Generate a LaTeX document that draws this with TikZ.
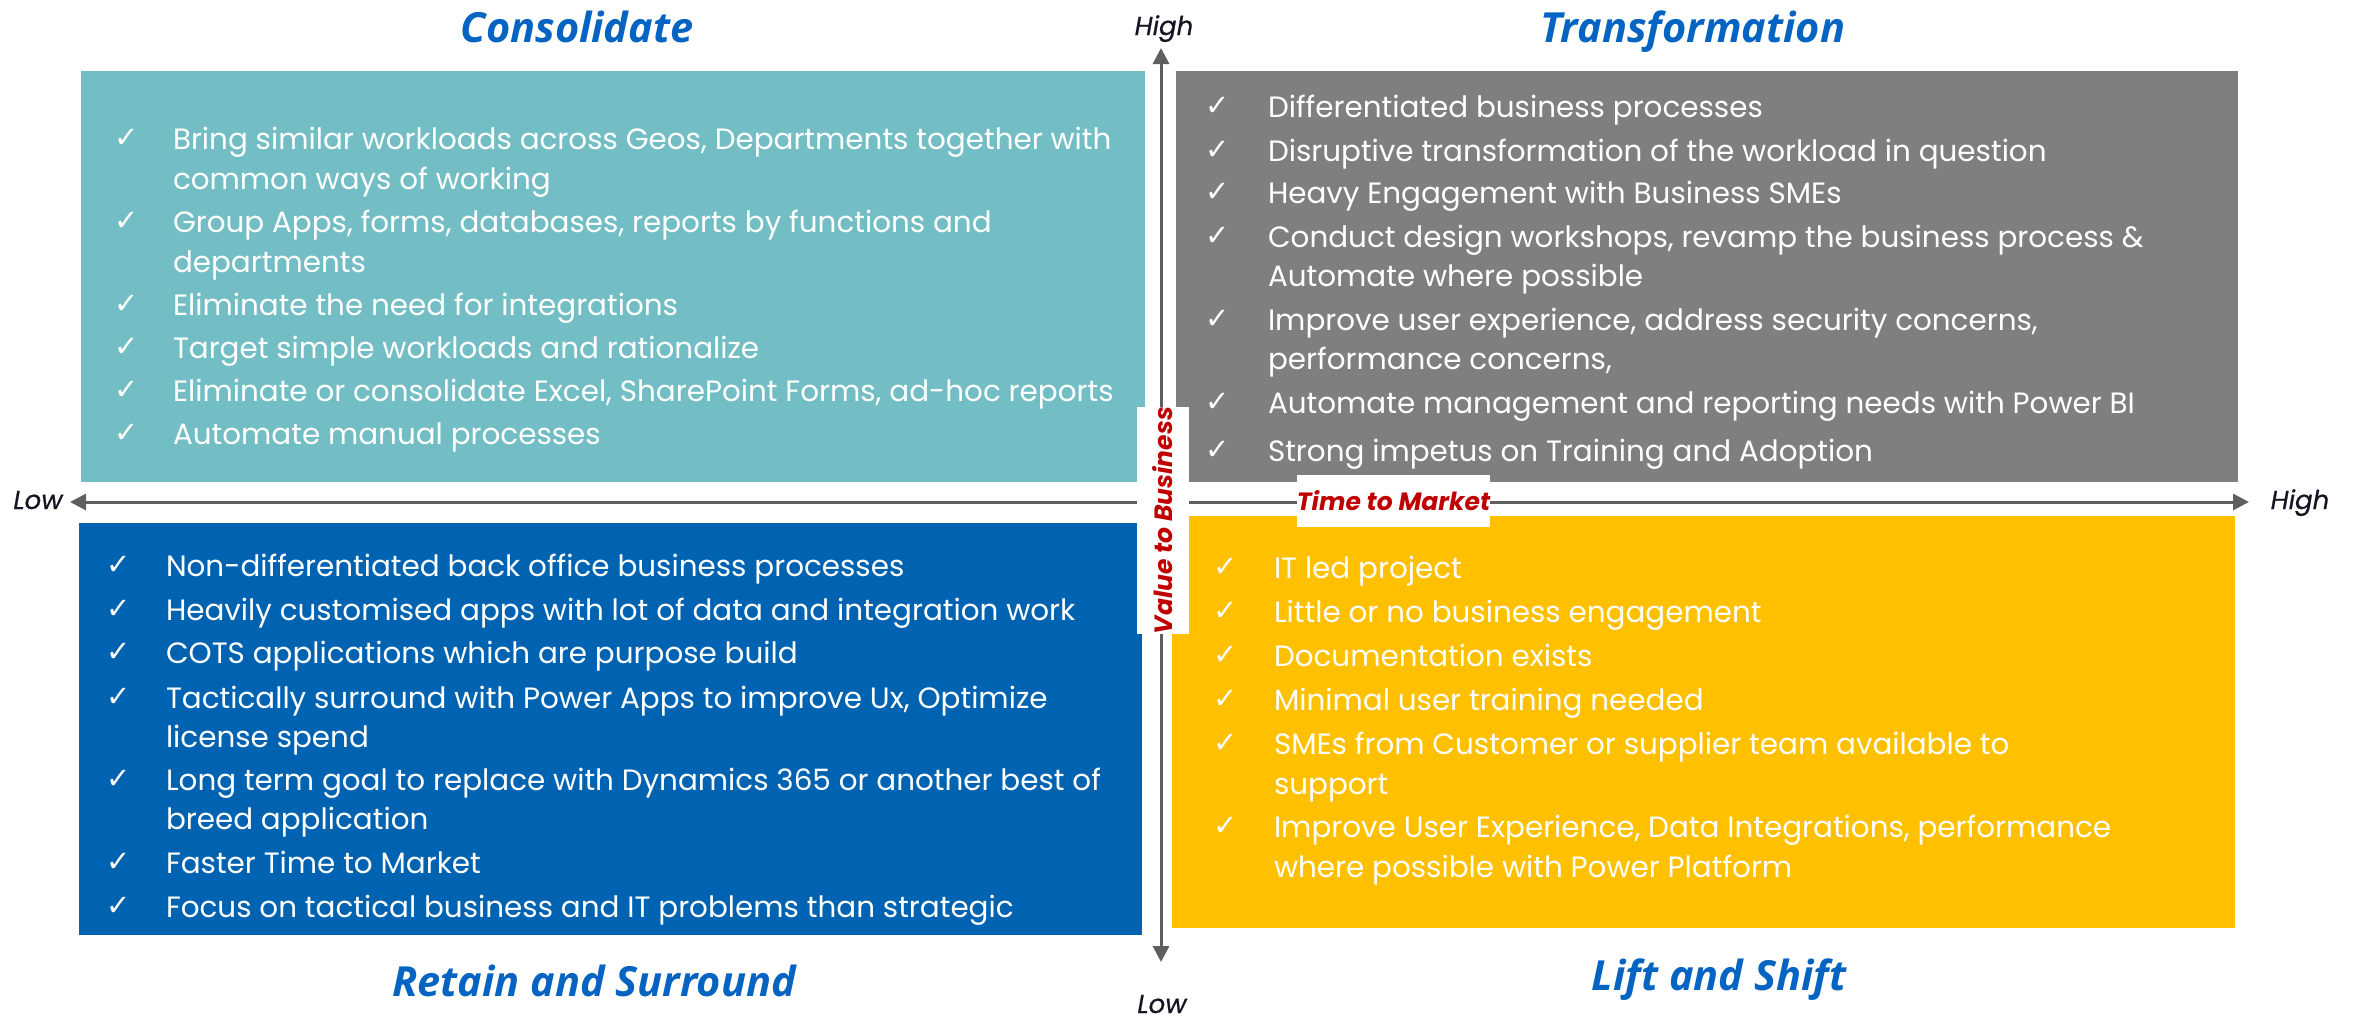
\documentclass[tikz,border=0pt]{standalone}
\usepackage{fontspec}
\setmainfont{Poppins}
\newfontfamily\titlefont{Open Sans}
\newfontfamily\ckfont{DejaVu Sans}
\newfontfamily\axfont[FakeBold=0.6]{Poppins}
\usetikzlibrary{arrows.meta}
\definecolor{cTeal}{RGB}{115,190,196}
\definecolor{cGray}{RGB}{127,127,127}
\definecolor{cBlue}{RGB}{0,99,177}
\definecolor{cYellow}{RGB}{255,192,0}
\definecolor{cTitle}{RGB}{5,99,193}
\definecolor{cRed}{RGB}{192,0,0}
\definecolor{cAxis}{RGB}{95,95,95}
\definecolor{cLbl}{RGB}{20,20,35}
\newcommand\ck[1][58]{\makebox[#1pt][l]{\raisebox{2pt}{\ckfont\fontsize{29}{29}\selectfont ✓}}}
\begin{document}
\begin{tikzpicture}[x=1pt,y=-1pt,
  qbox/.style={draw=none, inner sep=0, outer sep=0, anchor=north west},
  body/.style={anchor=base west, inner sep=0, outer sep=0, text=white},
  ttl/.style={anchor=base, inner sep=0, text=cTitle, font=\titlefont\bfseries\itshape\fontsize{41.5}{41.5}\selectfont},
  axlbl/.style={anchor=base, inner sep=0, text=cLbl, font=\axfont\itshape\fontsize{26}{26}\selectfont},
  axisline/.style={draw=cAxis, line width=3pt, {Triangle[length=16pt,width=16pt]}-{Triangle[length=16pt,width=16pt]}},
  lblbox/.style={fill=white, draw=none, inner sep=0, text=cRed, font=\bfseries\itshape\fontsize{25}{25}\selectfont}
]
\useasboundingbox (0,0) rectangle (2356,1017);
% quadrant boxes
\node[qbox, fill=cTeal, minimum width=1064pt, minimum height=411pt] (teal) at (81,71) {};
\node[qbox, fill=cGray, minimum width=1062pt, minimum height=411pt] (gray) at (1176,71) {};
\node[qbox, fill=cBlue, minimum width=1063pt, minimum height=412pt] (blue) at (79,523) {};
\node[qbox, fill=cYellow, minimum width=1063pt, minimum height=412pt] (yellow) at (1172,516) {};
% axes
\coordinate (xl) at (70,502);
\coordinate (xr) at (2249,502);
\coordinate (yt) at (1161,48);
\coordinate (yb) at (1161,962);
\draw[axisline] (xl) -- (xr);
\draw[axisline] (yt) -- (yb);
% axis labels
\node[lblbox, rotate=90, minimum width=221pt, minimum height=52pt] (vtb) at (1163,520.5) {Value to Business};
\node[lblbox, minimum width=193pt, minimum height=52pt] (ttm) at (1393.5,501) {Time to Market};
\node[axlbl] (lowx) at (38,509) {Low};
\node[axlbl] (highx) at (2300,509) {High};
\node[axlbl] (highy) at (1164,35) {High};
\node[axlbl] (lowy) at (1162,1013) {Low};
% titles
\node[ttl] (tcons) at (577,42) {Consolidate};
\node[ttl] (ttran) at (1693,42) {Transformation};
\node[ttl] (tret) at (594,996) {Retain and Surround};
\node[ttl] (tlift) at (1719,990) {Lift and Shift};
% texts
\node[body, font=\fontsize{29.4}{40}\selectfont] (lcons) at (114,149) {\begin{tabular}[t]{@{}l@{}l@{}}
\ck[59] & Bring similar workloads across Geos, Departments together with\\
 & common ways of working\\[3pt]
\ck[59] & Group Apps, forms, databases, reports by functions and\\
 & departments\\[3pt]
\ck[59] & Eliminate the need for integrations\\[3pt]
\ck[59] & Target simple workloads and rationalize\\[3pt]
\ck[59] & Eliminate or consolidate Excel, SharePoint Forms, ad-hoc reports\\[3pt]
\ck[59] & Automate manual processes
\end{tabular}};
\node[body, font=\fontsize{29.4}{39}\selectfont] (ltran) at (1205,117) {\begin{tabular}[t]{@{}l@{}l@{}}
\ck[63] & Differentiated business processes\\[5pt]
\ck[63] & Disruptive transformation of the workload in question\\[3pt]
\ck[63] & Heavy Engagement with Business SMEs\\[5pt]
\ck[63] & Conduct design workshops, revamp the business process \&\\
 & Automate where possible\\[5pt]
\ck[63] & Improve user experience, address security concerns,\\
 & performance concerns,\\[5pt]
\ck[63] & Automate management and reporting needs with Power BI\\[9pt]
\ck[63] & Strong impetus on Training and Adoption
\end{tabular}};
\begin{scope}
\clip (79,523) rectangle (1142,935);
\node[body, font=\fontsize{29.4}{39}\selectfont] (lret) at (106,576) {\begin{tabular}[t]{@{}l@{}l@{}}
\ck[60] & Non-differentiated back office business processes\\[5pt]
\ck[60] & Heavily customised apps with lot of data and integration work\\[4pt]
\ck[60] & COTS applications which are purpose build\\[6pt]
\ck[60] & Tactically surround with Power Apps to improve Ux, Optimize\\
 & license spend\\[4pt]
\ck[60] & Long term goal to replace with Dynamics 365 or another best of\\
 & breed application\\[5pt]
\ck[60] & Faster Time to Market\\[5pt]
\ck[60] & Focus on tactical business and IT problems than strategic\\
 & outcomes
\end{tabular}};
\end{scope}
\node[body, font=\fontsize{29.4}{40}\selectfont] (llift) at (1213,578) {\begin{tabular}[t]{@{}l@{}l@{}}
\ck[61] & IT led project\\[4pt]
\ck[61] & Little or no business engagement\\[4pt]
\ck[61] & Documentation exists\\[4pt]
\ck[61] & Minimal user training needed\\[4pt]
\ck[61] & SMEs from Customer or supplier team available to\\
 & support\\[3pt]
\ck[61] & Improve User Experience, Data Integrations, performance\\
 & where possible with Power Platform
\end{tabular}};
\end{tikzpicture}
\end{document}
